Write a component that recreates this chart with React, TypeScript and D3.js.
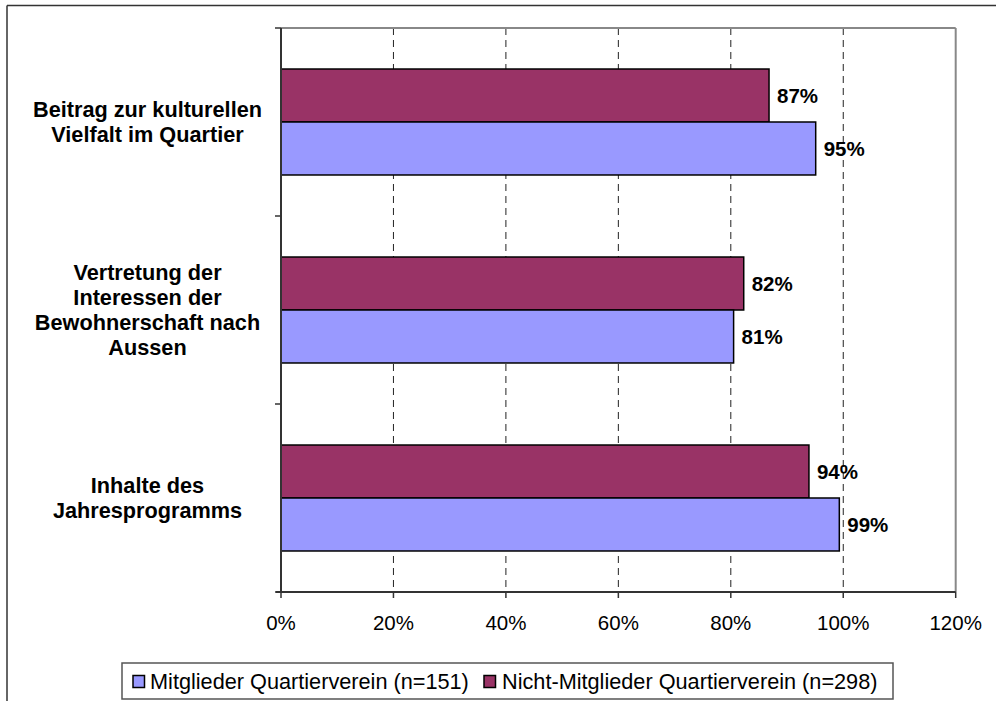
import React from "react";
import * as d3 from "d3";

const categoryLines: string[][] = [
  ["Beitrag zur kulturellen", "Vielfalt im Quartier"],
  ["Vertretung der", "Interessen der", "Bewohnerschaft nach", "Aussen"],
  ["Inhalte des", "Jahresprogramms"],
];
const categories = categoryLines.map((l) => l.join(" "));
const seriesNames = ["Nicht-Mitglieder Quartierverein (n=298)", "Mitglieder Quartierverein (n=151)"];
const nichtMitglieder = [0.868, 0.823, 0.939];
const mitglieder = [0.951, 0.805, 0.993];
const xTicks = [0, 0.2, 0.4, 0.6, 0.8, 1.0, 1.2];
const colors = ["#993366", "#9999FF"];

const W = 996;
const H = 701;
const FONT = "'Liberation Sans', Arial, sans-serif";

export default function App() {
  const x = d3.scaleLinear().domain([0, 1.2]).range([281, 955.7]);
  const y = d3.scaleBand<string>().domain(categories).range([28, 592]).padding(0);
  const sub = d3
    .scaleBand<string>()
    .domain(seriesNames)
    .range([0, y.bandwidth()])
    .paddingInner(0)
    .paddingOuter(0.774);
  const seriesValues = [nichtMitglieder, mitglieder];
  const pct = d3.format(".0%");
  const plotTop = 28;
  const plotBottom = 592;
  const plotLeft = x(0);
  const plotRight = x(1.2);
  const yTickPositions = [...categories.map((c) => y(c)!), plotBottom];

  return (
    <svg
      width={W}
      height={H}
      style={{ position: "absolute", left: 0, top: 0, background: "#fff" }}
      fontFamily={FONT}
    >
      {/* outer frame (top and left) */}
      <line x1={7} y1={5.5} x2={W} y2={5.5} stroke="#333" strokeWidth={1.5} />
      <line x1={7} y1={5.5} x2={7} y2={H} stroke="#333" strokeWidth={1.5} />

      {/* gridlines */}
      {xTicks.slice(1, -1).map((t) => (
        <line
          key={"g" + t}
          x1={x(t)}
          x2={x(t)}
          y1={plotTop}
          y2={plotBottom}
          stroke="#222"
          strokeWidth={1}
          strokeDasharray="7,5"
        />
      ))}

      {/* plot border top/right (gray) */}
      <line x1={plotLeft} x2={plotRight} y1={plotTop} y2={plotTop} stroke="#888" strokeWidth={2} />
      <line x1={plotRight} x2={plotRight} y1={plotTop} y2={plotBottom} stroke="#888" strokeWidth={2} />

      {/* bars */}
      {categories.map((c, i) =>
        seriesNames.map((s, j) => (
          <rect
            key={c + s}
            x={x(0)}
            y={y(c)! + sub(s)!}
            width={x(seriesValues[j][i]) - x(0)}
            height={sub.bandwidth()}
            fill={colors[j]}
            stroke="#000"
            strokeWidth={1.5}
          />
        ))
      )}

      {/* data labels */}
      {categories.map((c, i) =>
        seriesNames.map((s, j) => (
          <text
            key={"l" + c + s}
            x={x(seriesValues[j][i]) + 8}
            y={y(c)! + sub(s)! + sub.bandwidth() / 2}
            dy="0.35em"
            fontSize={20.5}
            fontWeight="bold"
            fill="#000"
          >
            {pct(seriesValues[j][i])}
          </text>
        ))
      )}

      {/* axes */}
      <line x1={plotLeft} x2={plotLeft} y1={plotTop} y2={plotBottom} stroke="#333" strokeWidth={2} />
      <line x1={plotLeft - 5} x2={plotRight} y1={plotBottom} y2={plotBottom} stroke="#333" strokeWidth={2} />
      {yTickPositions.map((p, i) => (
        <line key={"yt" + i} x1={plotLeft - 6} x2={plotLeft} y1={p} y2={p} stroke="#333" strokeWidth={1.5} />
      ))}
      {xTicks.map((t) => (
        <g key={"xt" + t}>
          <line x1={x(t)} x2={x(t)} y1={plotBottom} y2={plotBottom + 6} stroke="#333" strokeWidth={1.5} />
          <text x={x(t)} y={plotBottom + 38} textAnchor="middle" fontSize={20.5} fill="#000">
            {pct(t)}
          </text>
        </g>
      ))}

      {/* category labels */}
      {categoryLines.map((lines, i) => {
        const cy = y(categories[i])! + y.bandwidth() / 2;
        const lh = 25;
        const start = cy - ((lines.length - 1) * lh) / 2;
        return lines.map((ln, k) => (
          <text
            key={"c" + i + k}
            x={147.5}
            y={start + k * lh}
            dy="0.35em"
            textAnchor="middle"
            fontSize={21.7}
            fontWeight="bold"
            fill="#000"
          >
            {ln}
          </text>
        ));
      })}

      {/* legend */}
      <rect x={122} y={663} width={771} height={36} fill="#fff" stroke="#555" strokeWidth={1.5} />
      <rect x={133} y={675.5} width={11.5} height={12} fill={colors[1]} stroke="#000" strokeWidth={1.5} />
      <text x={150} y={689} fontSize={21.7} fill="#000">
        {seriesNames[1]}
      </text>
      <rect x={484} y={675.5} width={11.5} height={12} fill={colors[0]} stroke="#000" strokeWidth={1.5} />
      <text x={502} y={689} fontSize={21.7} fill="#000">
        {seriesNames[0]}
      </text>
    </svg>
  );
}
